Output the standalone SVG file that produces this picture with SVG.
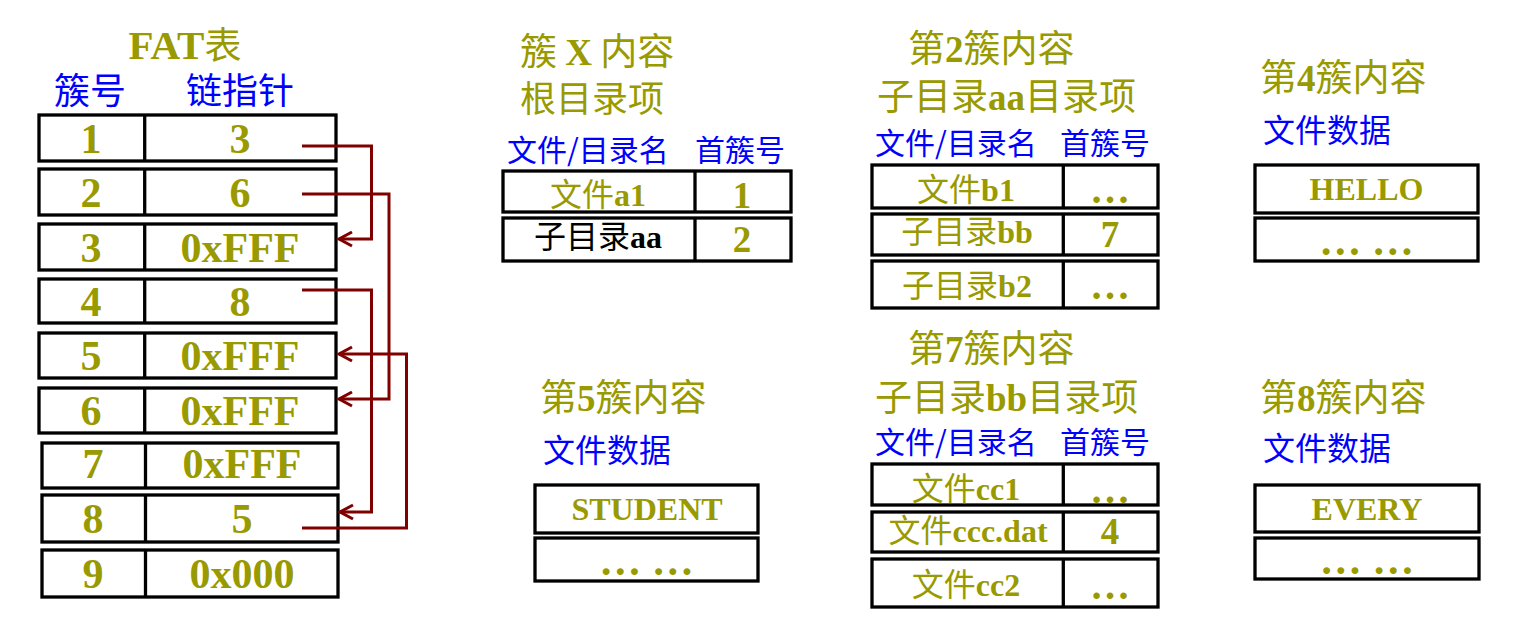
<svg xmlns="http://www.w3.org/2000/svg" width="1524" height="634" viewBox="0 0 1524 634">
<style>
.t{font-family:"Liberation Serif","Noto Sans CJK SC",serif;font-weight:bold;fill:#999900}
.cn{font-family:"Noto Sans CJK SC",sans-serif;font-weight:normal}
.blue{font-family:"Noto Sans CJK SC",sans-serif;font-weight:normal;fill:#0000FF}
.blk{fill:#000}
.m{text-anchor:middle}
.f{font-size:42px}
.box{fill:#fff;stroke:#000;stroke-width:3.3}
.div{stroke:#000;stroke-width:3.3}
.link{fill:none;stroke:#800000;stroke-width:3}
</style>
<defs>
<marker id="ah" markerUnits="userSpaceOnUse" markerWidth="20" markerHeight="20" viewBox="-16 -10 20 20" refX="0" refY="0" orient="auto">
<path d="M-13,-7 L0,0 L-13,7" fill="none" stroke="#800000" stroke-width="3"/>
</marker>
</defs>
<rect width="1524" height="634" fill="#fff"/>

<g id="fat-header">
<text class="t m" x="185" y="59" font-size="41">FAT<tspan class="cn" font-size="37">表</tspan></text>
<text class="blue m" x="90" y="104" font-size="36">簇号</text>
<text class="blue m" x="240" y="104" font-size="36">链指针</text>
</g>

<g id="fat-row1"><rect class="box" x="39" y="115" width="297" height="46"/><line class="div" x1="144.7" y1="115" x2="144.7" y2="161"/>
<text class="t m f" x="91" y="153">1</text><text class="t m f" x="240" y="153">3</text></g>
<g id="fat-row2"><rect class="box" x="39" y="169" width="297" height="46"/><line class="div" x1="144.7" y1="169" x2="144.7" y2="215"/>
<text class="t m f" x="91" y="207">2</text><text class="t m f" x="240" y="207">6</text></g>
<g id="fat-row3"><rect class="box" x="39" y="224" width="297" height="46"/><line class="div" x1="144.7" y1="224" x2="144.7" y2="270"/>
<text class="t m f" x="91" y="262">3</text><text class="t m f" x="240" y="262">0xFFF</text></g>
<g id="fat-row4"><rect class="box" x="39" y="279" width="297" height="44"/><line class="div" x1="144.7" y1="279" x2="144.7" y2="323"/>
<text class="t m f" x="91" y="316">4</text><text class="t m f" x="240" y="316">8</text></g>
<g id="fat-row5"><rect class="box" x="39" y="333" width="297" height="45"/><line class="div" x1="144.7" y1="333" x2="144.7" y2="378"/>
<text class="t m f" x="91" y="370">5</text><text class="t m f" x="240" y="370">0xFFF</text></g>
<g id="fat-row6"><rect class="box" x="39" y="388" width="297" height="45"/><line class="div" x1="144.7" y1="388" x2="144.7" y2="433"/>
<text class="t m f" x="91" y="425">6</text><text class="t m f" x="240" y="425">0xFFF</text></g>
<g id="fat-row7"><rect class="box" x="42" y="443" width="296" height="45"/><line class="div" x1="145.5" y1="443" x2="145.5" y2="488"/>
<text class="t m f" x="93" y="478">7</text><text class="t m f" x="242" y="478">0xFFF</text></g>
<g id="fat-row8"><rect class="box" x="42" y="495" width="296" height="47"/><line class="div" x1="145.5" y1="495" x2="145.5" y2="542"/>
<text class="t m f" x="93" y="533">8</text><text class="t m f" x="242" y="533">5</text></g>
<g id="fat-row9"><rect class="box" x="42" y="550" width="296" height="47"/><line class="div" x1="145.5" y1="550" x2="145.5" y2="597"/>
<text class="t m f" x="93" y="588">9</text><text class="t m f" x="242" y="588">0x000</text></g>

<g id="connectors">
<path class="link" d="M302,146 H371.5 V239 H339" marker-end="url(#ah)"/>
<path class="link" d="M302,194 H389 V399 H339" marker-end="url(#ah)"/>
<path class="link" d="M302,290 H371.5 V512 H340" marker-end="url(#ah)"/>
<path class="link" d="M302,528 H406.5 V354 H339" marker-end="url(#ah)"/>
</g>

<g id="cluster-x">
<text class="t" x="520" y="65" font-size="37"><tspan class="cn">簇 </tspan>X<tspan class="cn"> 内容</tspan></text>
<text class="t cn" x="520" y="112" font-size="36">根目录项</text>
<text class="blue" x="507" y="161" font-size="30">文件/目录名</text>
<text class="blue" x="695" y="161" font-size="30">首簇号</text>
<rect class="box" x="503" y="171" width="288" height="41"/><line class="div" x1="695" y1="171" x2="695" y2="212"/>
<rect class="box" x="503" y="218" width="288" height="43"/><line class="div" x1="695" y1="218" x2="695" y2="261"/>
<text class="t m" x="598" y="206" font-size="32"><tspan class="cn">文件</tspan>a1</text>
<text class="t m blk" x="598" y="248" font-size="32"><tspan class="cn">子目录</tspan>aa</text>
<text class="t m" x="742" y="208" font-size="37">1</text>
<text class="t m" x="742" y="252" font-size="37">2</text>
</g>

<g id="cluster-2">
<text class="t" x="908" y="62" font-size="37"><tspan class="cn">第</tspan>2<tspan class="cn">簇内容</tspan></text>
<text class="t" x="877" y="110" font-size="37"><tspan class="cn">子目录</tspan>aa<tspan class="cn">目录项</tspan></text>
<text class="blue" x="875" y="154" font-size="30">文件/目录名</text>
<text class="blue" x="1060" y="154" font-size="30">首簇号</text>
<rect class="box" x="872" y="165" width="286" height="43"/><line class="div" x1="1063.3" y1="165" x2="1063.3" y2="208"/>
<rect class="box" x="872" y="214" width="286" height="41"/><line class="div" x1="1063.3" y1="214" x2="1063.3" y2="255"/>
<rect class="box" x="872" y="261" width="286" height="47"/><line class="div" x1="1063.3" y1="261" x2="1063.3" y2="308"/>
<text class="t m" x="966" y="201" font-size="32"><tspan class="cn">文件</tspan>b1</text>
<text class="t m" x="1110" y="203" font-size="40">…</text>
<text class="t m" x="967" y="243" font-size="32"><tspan class="cn">子目录</tspan>bb</text>
<text class="t m" x="1110" y="247" font-size="37">7</text>
<text class="t m" x="967" y="297" font-size="32"><tspan class="cn">子目录</tspan>b2</text>
<text class="t m" x="1110" y="299" font-size="40">…</text>
</g>

<g id="cluster-7">
<text class="t" x="908" y="362" font-size="37"><tspan class="cn">第</tspan>7<tspan class="cn">簇内容</tspan></text>
<text class="t" x="875" y="411" font-size="37"><tspan class="cn">子目录</tspan>bb<tspan class="cn">目录项</tspan></text>
<text class="blue" x="875" y="453" font-size="30">文件/目录名</text>
<text class="blue" x="1060" y="453" font-size="30">首簇号</text>
<rect class="box" x="872" y="464" width="286" height="41"/><line class="div" x1="1063.3" y1="464" x2="1063.3" y2="505"/>
<rect class="box" x="872" y="512" width="286" height="40"/><line class="div" x1="1063.3" y1="512" x2="1063.3" y2="552"/>
<rect class="box" x="872" y="559" width="286" height="48"/><line class="div" x1="1063.3" y1="559" x2="1063.3" y2="607"/>
<text class="t m" x="966" y="500" font-size="32"><tspan class="cn">文件</tspan>cc1</text>
<text class="t m" x="1110" y="503" font-size="40">…</text>
<text class="t m" x="968" y="542" font-size="32"><tspan class="cn">文件</tspan>ccc.dat</text>
<text class="t m" x="1110" y="544" font-size="37">4</text>
<text class="t m" x="966" y="596" font-size="32"><tspan class="cn">文件</tspan>cc2</text>
<text class="t m" x="1110" y="599" font-size="40">…</text>
</g>

<g id="cluster-4">
<text class="t" x="1260" y="91" font-size="37"><tspan class="cn">第</tspan>4<tspan class="cn">簇内容</tspan></text>
<text class="blue" x="1263" y="142" font-size="32">文件数据</text>
<rect class="box" x="1255" y="165" width="223" height="48"/>
<rect class="box" x="1255" y="218" width="223" height="43"/>
<text class="t m" x="1366.5" y="200" font-size="32">HELLO</text>
<text class="t m" x="1366.5" y="255" font-size="42">… …</text>
</g>

<g id="cluster-5">
<text class="t" x="540" y="411" font-size="37"><tspan class="cn">第</tspan>5<tspan class="cn">簇内容</tspan></text>
<text class="blue" x="543" y="462" font-size="32">文件数据</text>
<rect class="box" x="535" y="485" width="223" height="48"/>
<rect class="box" x="535" y="538" width="223" height="43"/>
<text class="t m" x="647" y="520" font-size="32">STUDENT</text>
<text class="t m" x="646.5" y="575" font-size="42">… …</text>
</g>

<g id="cluster-8">
<text class="t" x="1260" y="411" font-size="37"><tspan class="cn">第</tspan>8<tspan class="cn">簇内容</tspan></text>
<text class="blue" x="1263" y="460" font-size="32">文件数据</text>
<rect class="box" x="1255" y="485" width="224" height="47"/>
<rect class="box" x="1255" y="538" width="224" height="41"/>
<text class="t m" x="1367" y="520" font-size="32">EVERY</text>
<text class="t m" x="1367" y="574" font-size="42">… …</text>
</g>
</svg>
